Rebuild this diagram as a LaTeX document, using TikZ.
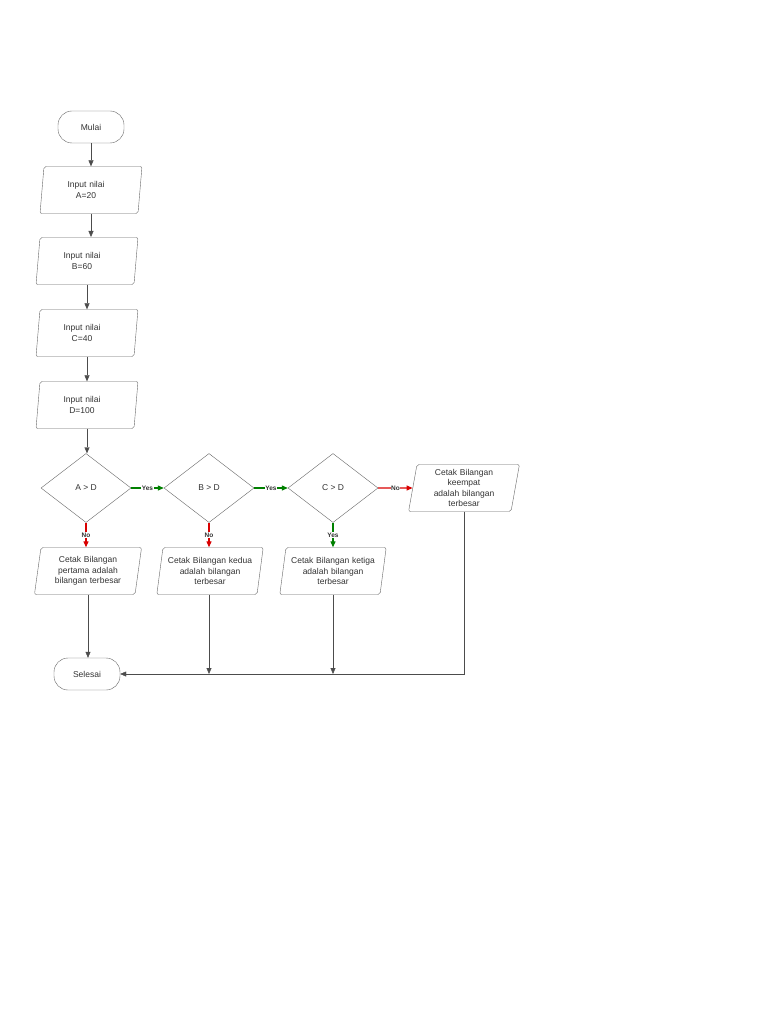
\documentclass[tikz,border=0pt]{standalone}
\usepackage{fontspec}
\setmainfont{Liberation Sans}
\usetikzlibrary{shapes.geometric,arrows.meta}
\begin{document}
\begin{tikzpicture}[x=1pt,y=-1pt,
  font=\fontsize{8.5}{10.5}\selectfont, every node/.style={text=black!80},
  term/.style={draw=black!60,rounded corners=14pt,minimum width=66pt,minimum height=32pt},
  io/.style={draw=black!60,trapezium,trapezium left angle=78,trapezium right angle=102,rounded corners=2pt,minimum width=96pt,minimum height=47pt,inner sep=1pt,align=center,text width=92pt,trapezium stretches body},
  dec/.style={draw=black!60,diamond,minimum width=90pt,minimum height=69pt,aspect=1.3,inner sep=0pt},
  flow/.style={draw=black!70,-{Triangle[width=5pt,length=6pt]}},
  yes/.style={draw=green!50!black,line width=1.2pt,-{Triangle[width=5pt,length=6pt]}},
  no/.style={draw=red!85!black,line width=1.2pt,-{Triangle[width=5pt,length=6pt]}},
  lab/.style={font=\fontsize{6.5}{7}\selectfont\bfseries,fill=white,inner sep=0.5pt}]
\useasboundingbox (0,0) rectangle (768,1024);
\fill[white] (0,0) rectangle (768,1024);
\node[term] (mulai) at (91,127) {Mulai};
\node[io] (ia) at (91,190) {\hspace*{-10pt}Input nilai\\\hspace*{-10pt}A=20};
\node[io] (ib) at (87,261) {\hspace*{-10pt}Input nilai\\\hspace*{-10pt}B=60};
\node[io] (ic) at (87,333) {\hspace*{-10pt}Input nilai\\\hspace*{-10pt}C=40};
\node[io] (id) at (87,405) {\hspace*{-10pt}Input nilai\\\hspace*{-10pt}D=100};
\node[dec] (da) at (86,488) {A > D};
\node[dec] (db) at (209,488) {B > D};
\node[dec] (dc) at (333,488) {C > D};
\node[io] (o4) at (464,488) {Cetak Bilangan\\keempat\\adalah bilangan\\terbesar};
\node[io] (o1) at (88,571) {Cetak Bilangan\\pertama adalah\\bilangan terbesar};
\node[io] (o2) at (210,571) {Cetak Bilangan kedua\\adalah bilangan\\terbesar};
\node[io] (o3) at (333,571) {Cetak Bilangan ketiga\\adalah bilangan\\terbesar};
\node[term] (sel) at (87,674) {Selesai};
\draw[flow] (mulai) -- (ia);
\draw[flow] (ia.south -| 91,0) -- (91,237);
\draw[flow] (ib.south -| 87,0) -- (ic.north -| 87,0);
\draw[flow] (ic.south -| 87,0) -- (id.north -| 87,0);
\draw[flow] (id.south -| 87,0) -- (da.north -| 87,0);
\draw[yes] (da.east) -- node[lab]{Yes} (db.west);
\draw[yes] (db.east) -- node[lab]{Yes} (dc.west);
\draw[no] (dc.east) -- node[lab]{No} (o4.west);
\draw[no] (da.south) -- node[lab]{No} (o1.north -| da.south);
\draw[no] (db.south) -- node[lab]{No} (o2.north -| db.south);
\draw[yes] (dc.south) -- node[lab]{Yes} (o3.north -| dc.south);
\draw[flow] (o1.south -| 88,0) -- (sel.north -| 88,0);
\draw[flow] (o2.south -| 209,0) -- (209,674);
\draw[flow] (o3.south -| 333,0) -- (333,674);
\draw[flow] (o4.south) |- (sel.east);
\end{tikzpicture}
\end{document}
